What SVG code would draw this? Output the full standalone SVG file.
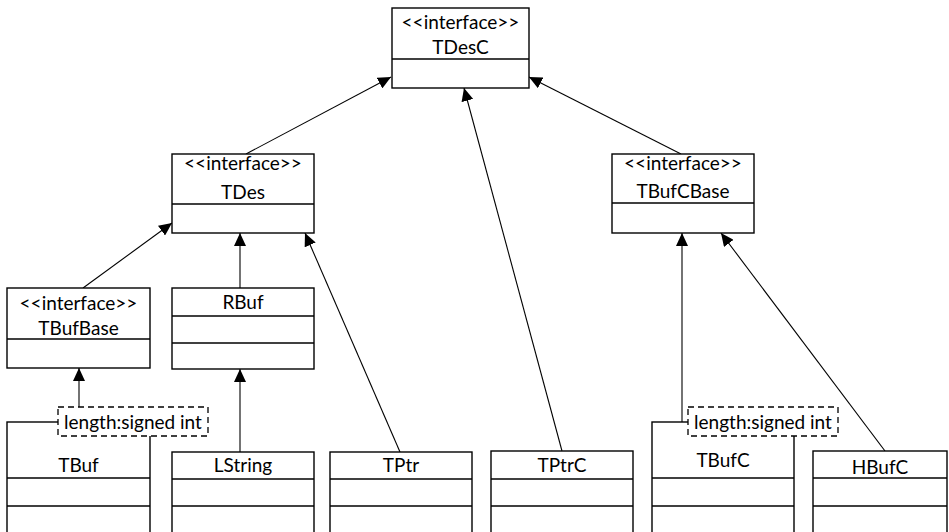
<svg xmlns="http://www.w3.org/2000/svg" width="949" height="532" viewBox="0 0 949 532">
  <style>
    .box { fill: #fff; stroke: #000; stroke-width: 1.4; }
    .div { stroke: #000; stroke-width: 1.4; }
    .edge { fill: none; stroke: #000; stroke-width: 1.1; }
    .tpl { fill: #fff; stroke: #000; stroke-width: 1.3; stroke-dasharray: 6 4; }
    text { font-family: "Lato", "Open Sans", sans-serif; font-size: 19px; fill: #000; text-anchor: middle; }
  </style>
  <defs>
    <marker id="tri" markerUnits="userSpaceOnUse" markerWidth="14" markerHeight="12" refX="13" refY="6" orient="auto">
      <path d="M0,0 L13,6 L0,12 Z" fill="#000"/>
    </marker>
  </defs>
  <rect width="949" height="532" fill="#fff"/>

  <!-- generalisation connectors -->
  <g id="connectors">
    <line class="edge" x1="246" y1="154" x2="391" y2="77" marker-end="url(#tri)"/>
    <line class="edge" x1="681" y1="154" x2="529" y2="77" marker-end="url(#tri)"/>
    <line class="edge" x1="562" y1="451" x2="464" y2="88" marker-end="url(#tri)"/>
    <line class="edge" x1="83" y1="288" x2="172" y2="223" marker-end="url(#tri)"/>
    <line class="edge" x1="240" y1="288" x2="240" y2="233" marker-end="url(#tri)"/>
    <line class="edge" x1="400" y1="452" x2="305" y2="233" marker-end="url(#tri)"/>
    <line class="edge" x1="240" y1="452" x2="240" y2="369" marker-end="url(#tri)"/>
    <line class="edge" x1="79" y1="407" x2="79" y2="368" marker-end="url(#tri)"/>
    <line class="edge" x1="682" y1="422" x2="682" y2="233" marker-end="url(#tri)"/>
    <line class="edge" x1="885" y1="451" x2="721" y2="233" marker-end="url(#tri)"/>
  </g>

  <g id="TDesC">
    <rect class="box" x="392" y="8" width="137" height="80"/>
    <line class="div" x1="392" y1="59" x2="529" y2="59"/>
    <text x="460.5" y="29">&lt;&lt;interface&gt;&gt;</text>
    <text x="460.5" y="54">TDesC</text>
  </g>

  <g id="TDes">
    <rect class="box" x="172" y="154" width="142" height="79"/>
    <line class="div" x1="172" y1="204" x2="314" y2="204"/>
    <text x="243" y="170">&lt;&lt;interface&gt;&gt;</text>
    <text x="243" y="199">TDes</text>
  </g>

  <g id="TBufCBase">
    <rect class="box" x="612" y="154" width="142" height="79"/>
    <line class="div" x1="612" y1="203" x2="754" y2="203"/>
    <text x="683" y="170">&lt;&lt;interface&gt;&gt;</text>
    <text x="683" y="198">TBufCBase</text>
  </g>

  <g id="TBufBase">
    <rect class="box" x="7" y="288" width="143" height="80"/>
    <line class="div" x1="7" y1="339" x2="150" y2="339"/>
    <text x="78.5" y="310">&lt;&lt;interface&gt;&gt;</text>
    <text x="78.5" y="335">TBufBase</text>
  </g>

  <g id="RBuf">
    <rect class="box" x="172" y="288" width="142" height="81"/>
    <line class="div" x1="172" y1="316" x2="314" y2="316"/>
    <line class="div" x1="172" y1="343" x2="314" y2="343"/>
    <text x="243" y="309">RBuf</text>
  </g>

  <g id="TBuf">
    <rect class="box" x="7" y="422" width="143" height="125"/>
    <line class="div" x1="7" y1="478" x2="150" y2="478"/>
    <line class="div" x1="7" y1="506" x2="150" y2="506"/>
    <text x="78.5" y="472">TBuf</text>
    <rect class="tpl" x="58" y="407" width="150" height="29"/>
    <text x="133" y="429">length:signed int</text>
  </g>

  <g id="LString">
    <rect class="box" x="172" y="452" width="142" height="95"/>
    <line class="div" x1="172" y1="479" x2="314" y2="479"/>
    <line class="div" x1="172" y1="506" x2="314" y2="506"/>
    <text x="243" y="472">LString</text>
  </g>

  <g id="TPtr">
    <rect class="box" x="330" y="452" width="142" height="95"/>
    <line class="div" x1="330" y1="479" x2="472" y2="479"/>
    <line class="div" x1="330" y1="506" x2="472" y2="506"/>
    <text x="401" y="472">TPtr</text>
  </g>

  <g id="TPtrC">
    <rect class="box" x="491" y="451" width="142" height="96"/>
    <line class="div" x1="491" y1="479" x2="633" y2="479"/>
    <line class="div" x1="491" y1="506" x2="633" y2="506"/>
    <text x="562" y="472">TPtrC</text>
  </g>

  <g id="TBufC">
    <rect class="box" x="652" y="422" width="142" height="125"/>
    <line class="div" x1="652" y1="478" x2="794" y2="478"/>
    <line class="div" x1="652" y1="506" x2="794" y2="506"/>
    <text x="723" y="467">TBufC</text>
    <rect class="tpl" x="688" y="407" width="150" height="29"/>
    <text x="763" y="429">length:signed int</text>
  </g>

  <g id="HBufC">
    <rect class="box" x="813" y="451" width="134" height="96"/>
    <line class="div" x1="813" y1="478" x2="947" y2="478"/>
    <line class="div" x1="813" y1="506" x2="947" y2="506"/>
    <text x="880" y="474">HBufC</text>
  </g>
</svg>
